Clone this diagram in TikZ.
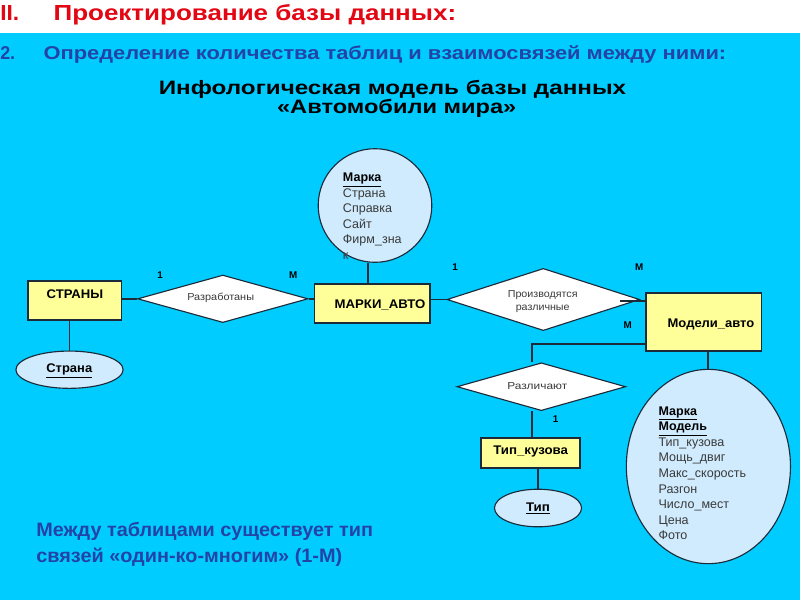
\documentclass[tikz,border=0pt]{standalone}
\usepackage{fontspec}
\setmainfont{Liberation Sans}
\usepackage{graphicx}
\usetikzlibrary{shapes.geometric}
\newdimen\PX \PX=0.70866pt
\newcommand\fw[2]{\resizebox{#1\PX}{\height}{#2}}
\definecolor{bgcyan}{HTML}{00CCFF}
\definecolor{titlered}{HTML}{E30613}
\definecolor{navy}{HTML}{2443A6}
\definecolor{boxyellow}{HTML}{FFFF99}
\definecolor{attrblue}{HTML}{CFEBFD}
\definecolor{edgecol}{HTML}{1C2A3A}
\definecolor{txtgray}{HTML}{3A3A3A}
\pgfdeclarelayer{bg}
\pgfdeclarelayer{lines}
\pgfsetlayers{bg,lines,main}
\begin{document}
\begin{tikzpicture}[x=0.025cm,y=-0.025cm,
  txt/.style={inner sep=0pt, anchor=base},
  entity/.style={draw=edgecol, line width=1.3pt, fill=boxyellow, inner sep=0pt},
  rel/.style={diamond, draw=edgecol, line width=0.8pt, fill=white, inner sep=0pt},
  attr/.style={ellipse, draw=edgecol, line width=0.8pt, fill=attrblue, inner sep=0pt},
  conn/.style={draw=edgecol, line width=1.3pt},
  btxt/.style={txt, font={\fontsize{8.9}{10}\selectfont\bfseries}},
  dtxt/.style={txt, text=txtgray, font={\fontsize{7.2}{8}\selectfont}},
  card/.style={txt, font={\fontsize{7}{8}\selectfont\bfseries}},
  ltxt/.style={inner sep=0pt, anchor=base west, text=txtgray, font={\fontsize{8.9}{10}\selectfont}},
  ttlred/.style={txt, text=titlered, font={\fontsize{15.5}{18}\selectfont\bfseries}},
  ttlblue/.style={txt, text=navy, font={\fontsize{13.2}{16}\selectfont\bfseries}},
  ttlblack/.style={txt, text=black, font={\fontsize{13.8}{16}\selectfont\bfseries}},
  note/.style={txt, text=navy, font={\fontsize{13.8}{16}\selectfont\bfseries}}
]
\useasboundingbox (0,0) rectangle (800,600);
\begin{pgfonlayer}{bg}
  \fill[white] (0,0) rectangle (800,33.3);
  \fill[bgcyan] (0,33.3) rectangle (800,600);
\end{pgfonlayer}

% titles
\node[ttlred, anchor=base west] (t1a) at (0,20.7) {\fw{19}{II.}};
\node[ttlred, anchor=base west] (t1b) at (53.3,20.7) {\fw{404}{Проектирование базы данных:}};
\node[ttlblue, anchor=base west] (t2a) at (0,59.3) {\fw{15}{2.}};
\node[ttlblue, anchor=base west] (t2b) at (43.3,59.3) {\fw{685}{Определение количества таблиц и взаимосвязей между ними:}};
\node[ttlblack] (t3a) at (392.5,94) {\fw{469}{Инфологическая модель базы данных}};
\node[ttlblack] (t3b) at (396.7,113.3) {\fw{240}{«Автомобили мира»}};

% entities
\node[entity, minimum width=94\PX, minimum height=39.3\PX] (strany) at (74.7,300.3) {};
\node[btxt] (strany-t) at (75,298.3) {\fw{56.7}{СТРАНЫ}};
\node[entity, minimum width=115.7\PX, minimum height=39.3\PX] (marki) at (372.2,303.7) {};
\node[btxt] (marki-t) at (380,308.3) {\fw{91}{МАРКИ\_АВТО}};
\node[entity, minimum width=116\PX, minimum height=57.4\PX] (modeli) at (703.7,322) {};
\node[btxt] (modeli-t) at (711,327.3) {\fw{87}{Модели\_авто}};
\node[entity, minimum width=99\PX, minimum height=29.4\PX] (tipk) at (530.5,453) {};
\node[btxt] (tipk-t) at (530.7,454.3) {\fw{75}{Тип\_кузова}};

% attributes
\node[attr, circle, minimum size=114\PX] (marka) at (375,205.5) {};
\node[attr, minimum width=107.6\PX, minimum height=37.4\PX] (strana) at (69.5,369.7) {};
\node[btxt] (strana-t) at (69.3,372.7) {\fw{46}{\underline{Страна}}};
\node[attr, minimum width=87.4\PX, minimum height=37.7\PX] (tip) at (538,508) {};
\node[btxt] (tip-t) at (538,511.7) {\fw{24}{\underline{Тип}}};
\node[attr, minimum width=164.7\PX, minimum height=195\PX] (modattr) at (708.4,466.5) {};

\foreach \t [count=\i] in {{\textcolor{black}{\textbf{\underline{Марка}}}},Страна,Справка,Сайт,Фирм\_зна,к}
  \node[ltxt] (ma-\i) at (342.7,{181.7+15.5*(\i-1)}) {\t};
\foreach \t [count=\i] in {{\textcolor{black}{\textbf{\underline{Марка}}}},{\textcolor{black}{\textbf{\underline{Модель}}}},Тип\_кузова,Мощь\_двиг,Макс\_скорость,Разгон,Число\_мест,Цена,Фото}
  \node[ltxt] (mo-\i) at (658.3,{415+15.6*(\i-1)}) {\t};

% relationships
\node[rel, minimum width=171\PX, minimum height=47.7\PX] (razr) at (222.8,298.8) {};
\node[dtxt] (razr-t) at (220.7,300.7) {\fw{67}{Разработаны}};
\node[rel, minimum width=193.3\PX, minimum height=62.4\PX] (proizv) at (543.3,299.5) {};
\node[dtxt] (proizv-t1) at (542.7,297.7) {\fw{70}{Производятся}};
\node[dtxt] (proizv-t2) at (542.7,310) {\fw{54}{различные}};
\node[rel, minimum width=169.3\PX, minimum height=48\PX] (razl) at (541.3,386.7) {};
\node[dtxt] (razl-t) at (537.3,389.3) {\fw{60}{Различают}};

% connectors
\begin{pgfonlayer}{lines}
  \draw[conn] (strany.east |- razr.west) -- (razr.west);
  \draw[conn] (razr.east) -- (razr.east -| marki.west);
  \draw[conn] (marki.east |- proizv.west) -- (proizv.west);
  \coordinate (pm) at (368.3,284);
  \draw[conn] (pm |- marka.south) -- (pm |- marki.north);
  \draw[conn] (strana.north |- strany.south) -- (strana.north);
  \coordinate (bend) at (532.3,344.3);
  \draw[conn] (bend -| modeli.west) -- (bend) -- (bend |- razl.north);
  \draw[conn] (bend |- razl.south) -- (bend |- tipk.north);
  \draw[conn] (tip.north |- tipk.south) -- (tip.north);
  \draw[conn] (modattr.north |- modeli.south) -- (modattr.north);
\end{pgfonlayer}
\coordinate (ptip) at (620,301);
\draw[conn] (ptip) -- (ptip -| modeli.west);

% cardinalities
\node[card] (c1) at (160,278.3) {1};
\node[card] (c2) at (293.3,278.3) {М};
\node[card] (c3) at (455,270.7) {1};
\node[card] (c4) at (639.3,270.7) {М};
\node[card] (c5) at (627.7,328) {М};
\node[card] (c6) at (555.7,422.7) {1};

% note
\node[note, anchor=base west] (n1) at (36,536.7) {\fw{338}{Между таблицами существует тип}};
\node[note, anchor=base west] (n2) at (36,562.7) {\fw{307}{связей «один-ко-многим» (1-М)}};
\end{tikzpicture}
\end{document}
